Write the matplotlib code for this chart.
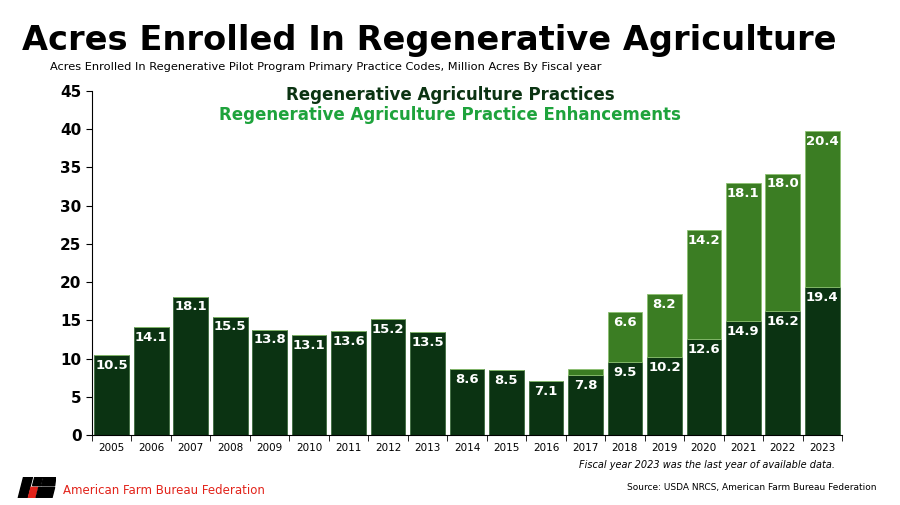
import numpy as np
import matplotlib.pyplot as plt
from matplotlib.patches import Polygon

# data (million acres)
years = ['2005', '2006', '2007', '2008', '2009', '2010', '2011', '2012', '2013', '2014',
         '2015', '2016', '2017', '2018', '2019', '2020', '2021', '2022', '2023']
practices = [10.5, 14.1, 18.1, 15.5, 13.8, 13.1, 13.6, 15.2, 13.5, 8.6,
             8.5, 7.1, 7.8, 9.5, 10.2, 12.6, 14.9, 16.2, 19.4]
enhancements = [0, 0, 0, 0, 0, 0, 0, 0, 0, 0,
                0, 0, 0.8, 6.6, 8.2, 14.2, 18.1, 18.0, 20.4]
show_enh_label = [False] * 13 + [True] * 6

dark = '#0b3312'
light = '#3b7d23'
bright = '#1ea33c'

fig = plt.figure(figsize=(9, 5.05), dpi=100)
ax = fig.add_axes([0.1022, 0.1386, 0.8334, 0.6812])

x = np.arange(len(years))
w = 0.88
ax.bar(x, practices, width=w, color=dark, edgecolor='#3d6b3d', linewidth=0.6, zorder=2)
ax.bar(x, enhancements, width=w, bottom=practices, color=light,
       edgecolor='#8cc070', linewidth=0.6, zorder=2)

for i in range(len(years)):
    ax.text(x[i], practices[i] - 0.5, f'{practices[i]:.1f}', ha='center', va='top',
            color='white', fontsize=9.5, fontweight='bold', zorder=3)
    if show_enh_label[i]:
        top = practices[i] + enhancements[i]
        ax.text(x[i], top - 0.5, f'{enhancements[i]:.1f}', ha='center', va='top',
                color='white', fontsize=9.5, fontweight='bold', zorder=3)

ax.set_xlim(-0.5, len(years) - 0.5)
ax.set_ylim(0, 45)
ax.set_yticks(range(0, 46, 5))
ax.set_yticklabels([str(v) for v in range(0, 46, 5)], fontsize=11, fontweight='bold')
ax.set_xticks(x)
ax.set_xticklabels(years, fontsize=7.5)
ax.set_xticks(np.arange(-0.5, len(years)), minor=True)
ax.tick_params(axis='x', which='major', length=0, pad=6)
ax.tick_params(axis='x', which='minor', length=4, direction='out')
ax.tick_params(axis='y', length=4, direction='out')
for s in ['top', 'right']:
    ax.spines[s].set_visible(False)

# legend-like headings
fig.text(0.5, 0.812, 'Regenerative Agriculture Practices', ha='center', va='center',
         color=dark, fontsize=12, fontweight='bold')
fig.text(0.5, 0.773, 'Regenerative Agriculture Practice Enhancements', ha='center', va='center',
         color=bright, fontsize=12, fontweight='bold')

# titles
fig.text(0.024, 0.92, 'Acres Enrolled In Regenerative Agriculture', ha='left', va='center',
         fontsize=24.2, fontweight='bold')
fig.text(0.056, 0.867, 'Acres Enrolled In Regenerative Pilot Program Primary Practice Codes, '
         'Million Acres By Fiscal year', ha='left', va='center', fontsize=8.2)

# footnotes
fig.text(0.928, 0.08, 'Fiscal year 2023 was the last year of available data.', ha='right',
         va='center', fontsize=7, style='italic')
fig.text(0.974, 0.035, 'Source: USDA NRCS, American Farm Bureau Federation', ha='right',
         va='center', fontsize=6.5)

# simple logo mark and name
logo = fig.add_axes([0.019, 0.014, 0.043, 0.042])
logo.set_xlim(0, 10)
logo.set_ylim(0, 5)
logo.axis('off')
logo.add_patch(Polygon([[0.3, 0], [2.6, 0], [4.0, 5], [1.7, 5]], color='black'))
logo.add_patch(Polygon([[2.9, 0], [4.6, 0], [5.3, 2.5], [3.6, 2.5]], color='#e2231a'))
logo.add_patch(Polygon([[4.0, 2.9], [6.0, 2.9], [6.6, 5], [4.6, 5]], color='black'))
logo.add_patch(Polygon([[4.9, 0], [9.0, 0], [9.7, 2.5], [5.6, 2.5]], color='black'))
logo.add_patch(Polygon([[6.3, 2.9], [9.7, 2.9], [10, 5], [6.9, 5]], color='black'))
fig.text(0.07, 0.028, 'American Farm Bureau Federation', ha='left', va='center',
         fontsize=8.5, color='#e2231a')

fig.savefig('out.png', dpi=100)
